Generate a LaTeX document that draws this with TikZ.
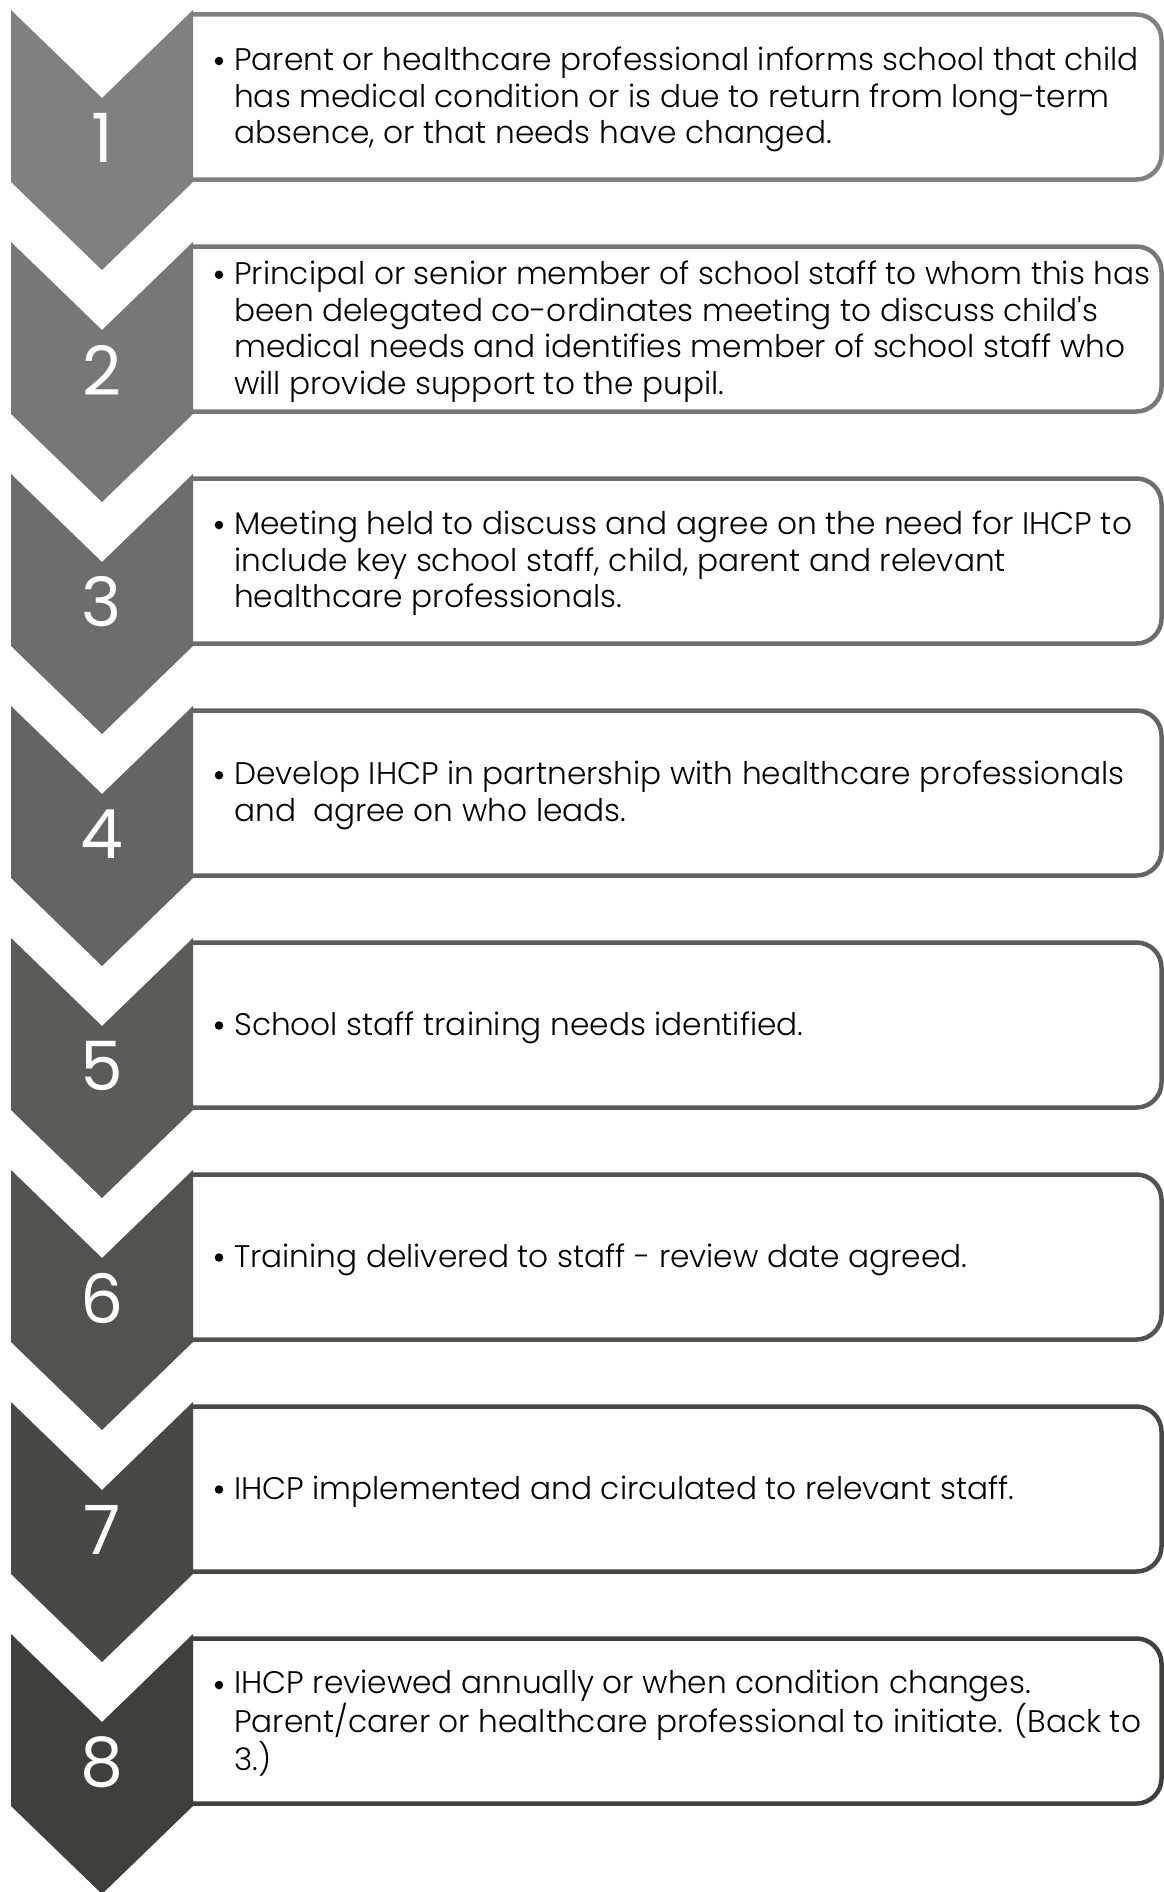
\documentclass[tikz,border=0pt]{standalone}
\usepackage{fontspec}
\setmainfont{Poppins}
\newfontfamily\lightfont{Poppins Light}
\definecolor{lt}{RGB}{128,128,128}
\definecolor{dk}{RGB}{64,63,59}
\tikzset{
  numtext/.style={text=white, font=\fontsize{68}{68}\selectfont, inner sep=0pt},
  bodytext/.style={anchor=west, align=left, inner sep=0pt, font=\lightfont\fontsize{31.2}{36.5}\selectfont, text=black},
  boxline/.style={line width=4.5pt, rounded corners=25pt},
  bulletdot/.style={circle, fill=black, minimum size=8.5pt, inner sep=0pt},
}
% #1 index, #2 number of lines, #3 text
\newcommand\flowitem[3]{%
  \pgfmathsetmacro\ytop{10+232*(#1-1)}%
  \pgfmathsetmacro\ybt{\ytop+4.5}%
  \pgfmathsetmacro\ybb{\ytop+169.5}%
  \pgfmathsetmacro\ynotch{\ytop+88}%
  \pgfmathsetmacro\yside{\ytop+172}%
  \pgfmathsetmacro\ytip{\ytop+260}%
  \pgfmathsetmacro\ynum{\ytop+128}%
  \pgfmathsetmacro\ytxt{\ytop+89.5}%
  \pgfmathsetmacro\ybul{\ytop+87.5-18.25*(#2-1)}%
  \pgfmathsetmacro\pc{(#1-1)*100/7}%
  \colorlet{cc}{dk!\pc!lt}%
  \draw[boxline, draw=cc, fill=white] (193,\ybt) -- (1161.5,\ybt) -- (1161.5,\ybb) -- (193,\ybb);
  \fill[cc] (11,\ytop) -- (102,\ynotch) -- (193,\ytop) -- (193,\yside) -- (102,\ytip) -- (11,\yside) -- cycle;
  \node[numtext] (n#1) at (102,\ynum) {#1};
  \node[bulletdot] (b#1) at (219,\ybul) {};
  \node[bodytext] (t#1) at (234,\ytxt) {#3};
}
\begin{document}
\begin{tikzpicture}[x=1pt,y=-1pt]
\useasboundingbox[fill=white] (0,0) rectangle (1164,1892);
\flowitem{1}{3}{Parent or healthcare professional informs school that child\\has medical condition or is due to return from long-term\\absence, or that needs have changed.}
\flowitem{2}{4}{Principal or senior member of school staff to whom this has\\been delegated co-ordinates meeting to discuss child's\\medical needs and identifies member of school staff who\\will provide support to the pupil.}
\flowitem{3}{3}{Meeting held to discuss and agree on the need for IHCP to\\include key school staff, child, parent and relevant\\healthcare professionals.}
\flowitem{4}{2}{Develop IHCP in partnership with healthcare professionals\\and\ \ agree on who leads.}
\flowitem{5}{1}{School staff training needs identified.}
\flowitem{6}{1}{Training delivered to staff - review date agreed.}
\flowitem{7}{1}{IHCP implemented and circulated to relevant staff.}
\flowitem{8}{3}{IHCP reviewed annually or when condition changes.\\Parent/carer or healthcare professional to initiate. (Back to\\3.)}
\end{tikzpicture}
\end{document}
